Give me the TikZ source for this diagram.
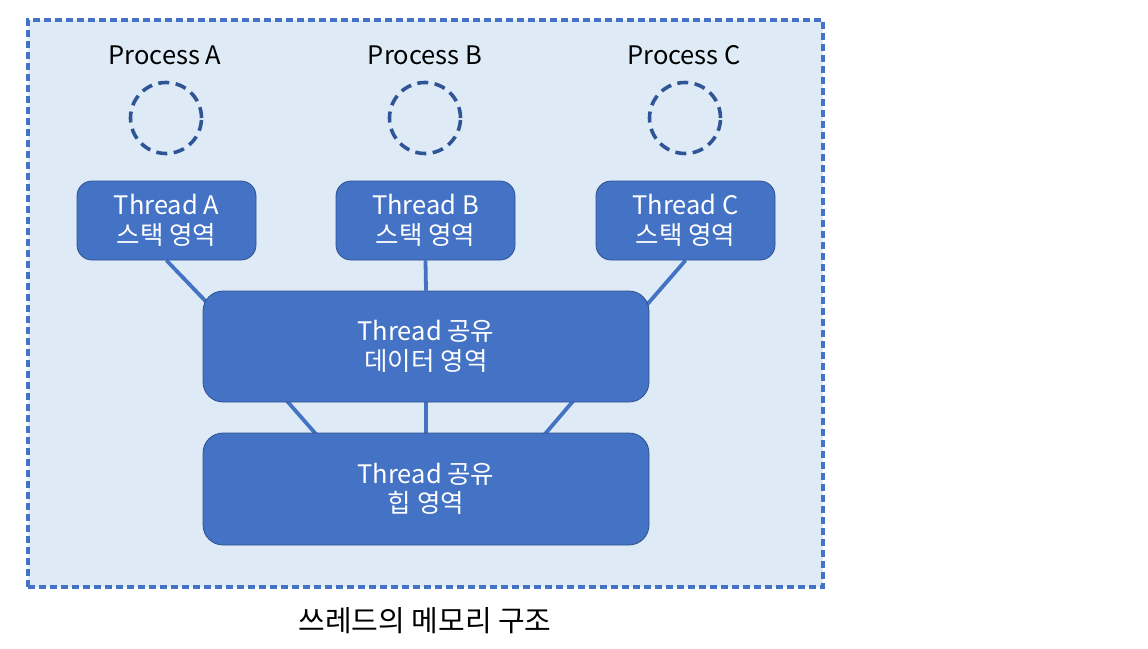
\documentclass[tikz,border=0pt]{standalone}
\usepackage{fontspec}
\setmainfont{Noto Sans CJK KR}
\usetikzlibrary{backgrounds}
\definecolor{bgblue}{HTML}{DEEBF7}
\definecolor{mainblue}{HTML}{4472C4}
\definecolor{darkblue}{HTML}{2F5597}
\definecolor{edgeblue}{HTML}{2F528F}
\begin{document}
\begin{tikzpicture}[x=1pt,y=-1pt,
  box/.style={draw=edgeblue,line width=0.8pt,fill=mainblue,rounded corners=15pt,text=white,align=center,font=\fontsize{25.5}{29.5}\selectfont,inner sep=0pt},
  proc/.style={draw=darkblue,line width=3.6pt,dash pattern=on 11pt off 6.5pt,circle,minimum size=71pt,inner sep=0pt},
  plabel/.style={font=\fontsize{25.5}{29}\selectfont,text=black},
  conn/.style={draw=mainblue,line width=3.8pt}]
\useasboundingbox (0,0) rectangle (1148,648);
\begin{scope}[on background layer]
\node[draw=mainblue,line width=3.2pt,dash pattern=on 7pt off 4pt,fill=bgblue,minimum width=795pt,minimum height=567pt,inner sep=0pt] (frame) at (425.5,303.5) {};
\end{scope}
\node[plabel] (pa) at (165,55) {Process A};
\node[plabel] (pb) at (425,55) {Process B};
\node[plabel] (pc) at (684,55) {Process C};
\node[proc] (ca) at (166,118) {};
\node[proc] (cb) at (425,118) {};
\node[proc] (cc) at (685,118) {};
\node[box,minimum width=179pt,minimum height=79pt] (ta) at (166.5,220.5) {Thread A\\스택 영역};
\node[box,minimum width=179pt,minimum height=79pt] (tb) at (425.5,220.5) {Thread B\\스택 영역};
\node[box,minimum width=179pt,minimum height=79pt] (tc) at (685.5,220.5) {Thread C\\스택 영역};
\node[box,minimum width=446pt,minimum height=111pt,rounded corners=20pt] (data) at (426,346.5) {Thread 공유\\데이터 영역};
\node[box,minimum width=446pt,minimum height=112pt,rounded corners=20pt] (heap) at (426,489) {Thread 공유\\힙 영역};
\coordinate (da) at (215,311);
\coordinate (dc) at (638,315);
\coordinate (hl) at (322,441);
\coordinate (hr) at (539,441);
\coordinate (dl) at (280,393);
\coordinate (dr) at (580,393);
\begin{scope}[on background layer]
\path[conn] (ta.south) -- (da);
\path[conn] (tb.south) -- (data.north);
\path[conn] (tc.south) -- (dc);
\path[conn] (dl) -- (hl);
\path[conn] (data.south) -- (heap.north);
\path[conn] (dr) -- (hr);
\end{scope}
\node[font=\fontsize{29}{33}\selectfont,text=black] (cap) at (425,621) {쓰레드의 메모리 구조};
\end{tikzpicture}
\end{document}
